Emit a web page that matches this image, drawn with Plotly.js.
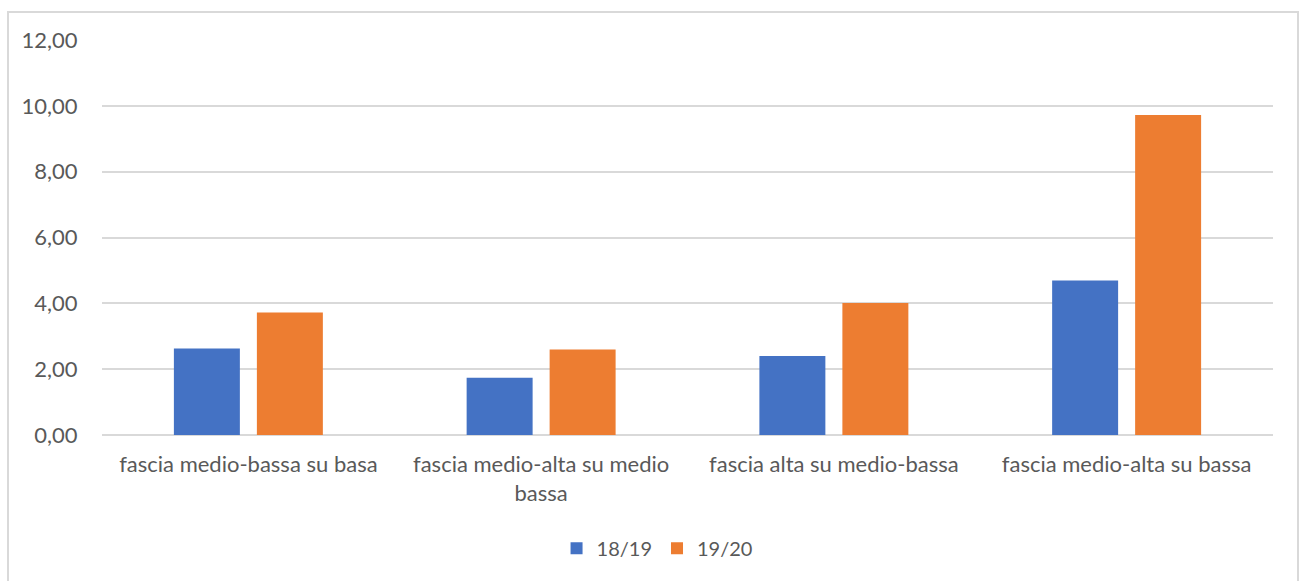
<!DOCTYPE html>
<html>
<head>
<meta charset="utf-8">
<script src="https://cdn.plot.ly/plotly-3.0.1.min.js"></script>
<style>
  html, body { margin: 0; padding: 0; background: #ffffff; }
  #frame { position: absolute; left: 7px; top: 11px; width: 1292px; height: 600px; border: 2px solid #d9d9d9; box-sizing: border-box; }
  #chart { position: absolute; left: 0; top: 0; width: 1303px; height: 581px; }
</style>
</head>
<body>
<div id="frame"></div>
<div id="chart"></div>
<script>
const categories = [
  "fascia medio-bassa su basa",
  "fascia medio-alta su medio<br>bassa",
  "fascia alta su medio-bassa",
  "fascia medio-alta su bassa"
];
const seriesNames = ["18/19", "19/20"];
const values1819 = [2.63, 1.74, 2.40, 4.69];
const values1920 = [3.72, 2.60, 4.01, 9.72];
const yTicks = [0, 2, 4, 6, 8, 10, 12];

const fontFam = "Lato, 'Open Sans', sans-serif";
const textColor = "#595959";

const traces = [
  { type: "bar", name: seriesNames[0], x: categories, y: values1819, marker: { color: "#4472C4" }, hoverinfo: "y" },
  { type: "bar", name: seriesNames[1], x: categories, y: values1920, marker: { color: "#ED7D31" }, hoverinfo: "y" }
];

const layout = {
  width: 1303, height: 581,
  paper_bgcolor: "rgba(0,0,0,0)",
  plot_bgcolor: "rgba(0,0,0,0)",
  margin: { l: 102, r: 30, t: 40, b: 146 },
  barmode: "group",
  bargap: 0.433,
  bargroupgap: 0.205,
  font: { family: fontFam, color: textColor, size: 22 },
  showlegend: true,
  legend: {
    orientation: "h", x: 0.474, xanchor: "center", y: -0.287, yanchor: "middle",
    font: { family: fontFam, size: 20, color: textColor },
    itemwidth: 30, traceorder: "normal"
  },
  xaxis: {
    type: "category",
    showgrid: false, zeroline: false, showline: false,
    ticks: "outside", ticklen: 10, tickcolor: "rgba(0,0,0,0)",
    tickfont: { family: fontFam, size: 22, color: textColor },
    fixedrange: true
  },
  yaxis: {
    range: [0, 12],
    tickvals: yTicks,
    tickformat: ".2f",
    showgrid: true, gridcolor: "#d9d9d9", gridwidth: 2,
    zeroline: true, zerolinecolor: "#d9d9d9", zerolinewidth: 2,
    showline: false,
    ticks: "outside", ticklen: 19, tickcolor: "rgba(0,0,0,0)",
    tickfont: { family: fontFam, size: 22, color: textColor },
    fixedrange: true
  },
  separators: ",."
};

Plotly.newPlot("chart", traces, layout, { displayModeBar: false, staticPlot: true });
</script>
</body>
</html>
